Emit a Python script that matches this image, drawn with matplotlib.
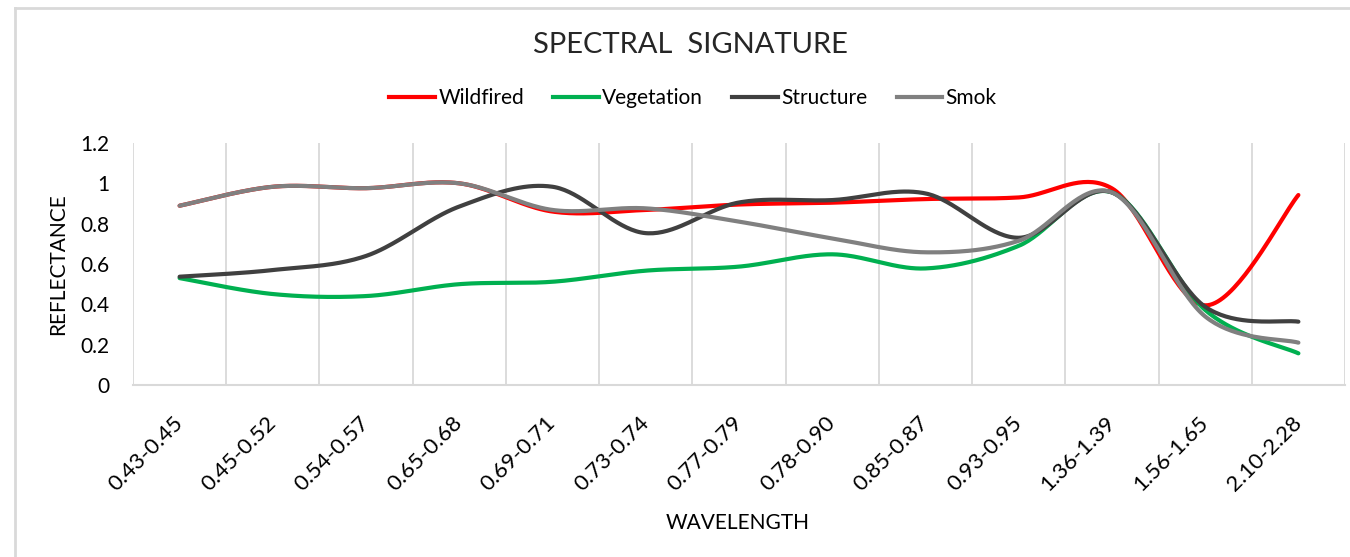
import numpy as np
import matplotlib
matplotlib.use("Agg")
import matplotlib.pyplot as plt
from matplotlib.lines import Line2D

categories = ["0.43-0.45", "0.45-0.52", "0.54-0.57", "0.65-0.68", "0.69-0.71",
              "0.73-0.74", "0.77-0.79", "0.78-0.90", "0.85-0.87", "0.93-0.95",
              "1.36-1.39", "1.56-1.65", "2.10-2.28"]
wildfired = [0.889, 0.983, 0.976, 1.0, 0.86, 0.868, 0.895, 0.904, 0.922, 0.93, 0.975, 0.395, 0.942]
vegetation = [0.53, 0.451, 0.441, 0.50, 0.512, 0.567, 0.587, 0.648, 0.578, 0.69, 0.955, 0.372, 0.157]
structure = [0.537, 0.57, 0.64, 0.885, 0.983, 0.753, 0.905, 0.917, 0.95, 0.73, 0.955, 0.388, 0.314]
smok = [0.889, 0.983, 0.976, 1.0, 0.868, 0.876, 0.81, 0.727, 0.658, 0.715, 0.955, 0.34, 0.21]
yticks = [0, 0.2, 0.4, 0.6, 0.8, 1, 1.2]
ytick_labels = ["0", "0.2", "0.4", "0.6", "0.8", "1", "1.2"]

series = [("Wildfired", wildfired, "#FF0000"),
          ("Vegetation", vegetation, "#00B050"),
          ("Structure", structure, "#404040"),
          ("Smok", smok, "#808080")]

FONT = ["Lato", "DejaVu Sans"]
plt.rcParams['font.family'] = FONT


def smooth(yv, n=40):
    P = np.column_stack([np.arange(len(yv), dtype=float), np.asarray(yv, float)])
    out = []
    m = len(P)
    for i in range(m - 1):
        p0 = P[max(i - 1, 0)]
        p1 = P[i]
        p2 = P[i + 1]
        p3 = P[min(i + 2, m - 1)]
        c1 = p1 + (p2 - p0) / 6.0
        c2 = p2 - (p3 - p1) / 6.0
        t = np.linspace(0, 1, n)[:, None]
        seg = (1 - t) ** 3 * p1 + 3 * (1 - t) ** 2 * t * c1 + 3 * (1 - t) * t ** 2 * c2 + t ** 3 * p2
        out.append(seg if i == 0 else seg[1:])
    return np.vstack(out)


W, H = 1350, 557
fig = plt.figure(figsize=(W / 100, H / 100), dpi=100)
ax = fig.add_axes([133 / W, (H - 385) / H, (1345 - 133) / W, (385 - 143) / H])

handles = []
for name, vals, col in series:
    pts = smooth(vals)
    ax.plot(pts[:, 0], pts[:, 1], color=col, lw=3.0, solid_capstyle='round', zorder=3)
    handles.append(Line2D([0], [0], color=col, lw=3.0, label=name))

ax.set_xlim(-0.5, len(categories) - 0.5)
ax.set_ylim(0, 1.2)
ax.set_xticks(range(len(categories)))
ax.set_xticklabels(categories, rotation=45, ha='right', va='center',
                   rotation_mode='anchor', fontsize=16)
ax.set_yticks(yticks)
ax.set_yticklabels(ytick_labels, fontsize=15)
ax.tick_params(axis='x', length=0, pad=25)
ax.tick_params(axis='y', length=0, pad=17)
ax.set_xticks(np.arange(-0.5, len(categories), 1.0), minor=True)
ax.tick_params(which='minor', length=0)
ax.grid(which='minor', axis='x', color='#D9D9D9', lw=1.3)
ax.grid(which='major', visible=False)
for s in ['top', 'right', 'left']:
    ax.spines[s].set_visible(False)
ax.spines['bottom'].set_color('#D9D9D9')
ax.spines['bottom'].set_linewidth(1.5)

fig.text(690 / W, 1 - 45 / H, "SPECTRAL  SIGNATURE", ha='center', va='center',
         fontsize=21, color='#262626')
fig.text(738 / W, 1 - 523 / H, "WAVELENGTH", ha='center', va='center', fontsize=15)
fig.text(58 / W, 1 - 264 / H, "REFLECTANCE", ha='center', va='center',
         rotation=90, fontsize=15)

fig.legend(handles=handles, loc='center', bbox_to_anchor=(693 / W, 1 - 98 / H),
           ncol=4, frameon=False, fontsize=15, handlelength=2.2,
           handletextpad=0.15, columnspacing=1.4)

# outer chart border
fig.add_artist(Line2D([15 / W, 1.0], [1 - 8 / H, 1 - 8 / H], color='#D9D9D9', lw=2,
                      transform=fig.transFigure))
fig.add_artist(Line2D([15 / W, 15 / W], [0, 1 - 8 / H], color='#D9D9D9', lw=2,
                      transform=fig.transFigure))

fig.savefig("out.png", dpi=100, facecolor='white')
